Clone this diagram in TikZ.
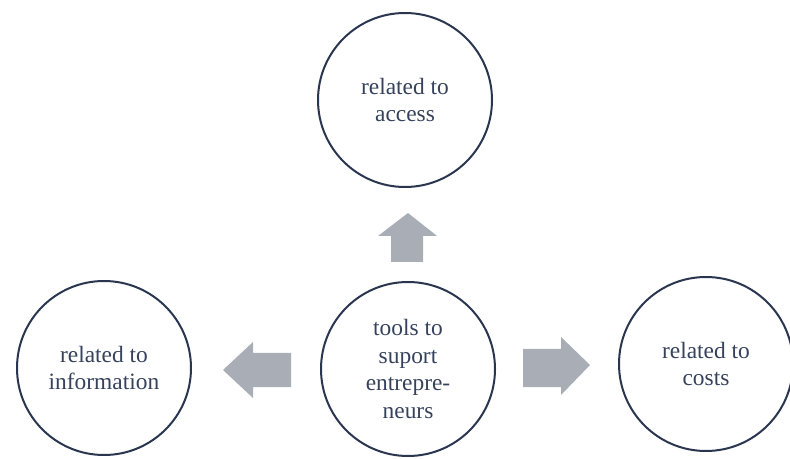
\documentclass[tikz,border=0pt]{standalone}
\usepackage{fontspec}
\setmainfont{Liberation Serif}
\definecolor{ring}{HTML}{2A3650}
\definecolor{txt}{HTML}{36425C}
\definecolor{arr}{HTML}{A9ADB5}
\begin{document}
\begin{tikzpicture}[x=1bp,y=-1bp,
  bubble/.style={circle,draw=ring,line width=2bp,minimum size=174bp,inner sep=0pt,
    align=center,text=txt,font=\fontsize{23.5}{27.5}\selectfont},
  fatarrow/.style={fill=arr,draw=none}]
\useasboundingbox (0,0) rectangle (790,459);
\node[bubble] (access) at (405,100) {related to\\access};
\node[bubble] (tools) at (408,369) {tools to\\suport\\entrepre-\\neurs};
\node[bubble] (info) at (104,368) {related to\\information};
\node[bubble] (costs) at (706,364) {related to\\costs};
% up arrow
\fill[fatarrow] (391,262) -- (391,236) -- (378,236) -- (408,213) -- (437,236) -- (423,236) -- (423,262) -- cycle;
% left arrow
\fill[fatarrow] (291,353) -- (253,353) -- (253,342) -- (223,370) -- (253,398) -- (253,387) -- (291,387) -- cycle;
% right arrow
\fill[fatarrow] (523,349) -- (561,349) -- (561,337) -- (590,365) -- (561,395) -- (561,387) -- (523,387) -- cycle;
\end{tikzpicture}
\end{document}
